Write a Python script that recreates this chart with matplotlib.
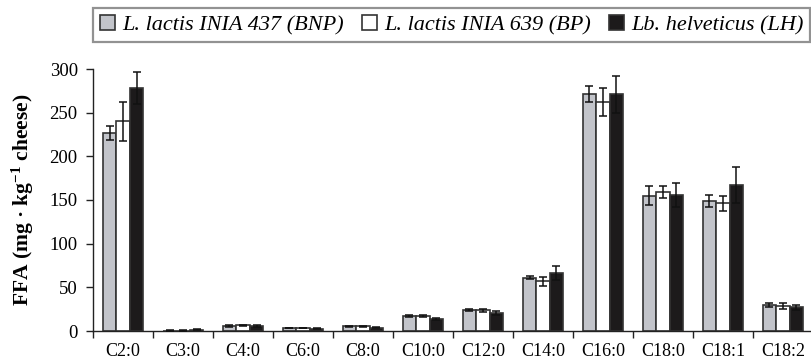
import numpy as np
import matplotlib
matplotlib.use("Agg")
import matplotlib.pyplot as plt

plt.rcParams['font.family'] = ['Liberation Serif', 'DejaVu Serif']
plt.rcParams['mathtext.fontset'] = 'custom'
plt.rcParams['mathtext.rm'] = 'Liberation Serif:bold'
plt.rcParams['mathtext.default'] = 'regular'

# fatty acids on the x axis
categories = ['C2:0', 'C3:0', 'C4:0', 'C6:0', 'C8:0', 'C10:0', 'C12:0',
              'C14:0', 'C16:0', 'C18:0', 'C18:1', 'C18:2']

series_names = ['L. lactis INIA 437 (BNP)', 'L. lactis INIA 639 (BP)',
                'Lb. helveticus (LH)']

bnp = [227, 0.5, 5.5, 3.5, 5.5, 17.5, 24, 61, 271, 155, 149, 30]
bnp_err = [8, 0.3, 0.8, 0.5, 0.6, 1.0, 1.0, 2.0, 9, 11, 7, 2]

bp = [240, 0.5, 6.5, 3.5, 5.5, 17, 23.5, 57, 262, 159, 146, 28.5]
bp_err = [22, 0.3, 0.8, 0.5, 0.6, 1.5, 1.5, 5, 16, 7, 9, 3]

lh = [278, 1.5, 5.5, 2.5, 4, 13.5, 20.5, 66, 271, 156, 167, 27]
lh_err = [18, 0.5, 0.8, 0.4, 0.5, 1.0, 2.5, 8, 21, 14, 21, 3]

values = [bnp, bp, lh]
errors = [bnp_err, bp_err, lh_err]
colors = ['#c2c4ca', 'white', '#1c1a1b']

fig = plt.figure(figsize=(8.11, 3.64), dpi=100)
ax = fig.add_axes([93 / 811, 33 / 364, 720 / 811, 262 / 364])

x = np.arange(len(categories))
width = 0.225
offsets = [-width, 0, width]
for vals, errs, col, off, name in zip(values, errors, colors, offsets, series_names):
    ax.bar(x + off, vals, width, color=col, edgecolor='#333333', linewidth=1.2,
           label=name, zorder=2)
    ax.errorbar(x + off, vals, yerr=errs, fmt='none', ecolor='#111111',
                elinewidth=1.1, capsize=3.2, capthick=1.1, zorder=3)

ax.set_xlim(-0.5, len(categories) - 0.5)
ax.set_ylim(0, 300)
ax.set_yticks(np.arange(0, 301, 50))
ax.set_xticks(x)
ax.set_xticklabels(categories)
# ticks sit between the groups
ax.set_xticks(np.arange(-0.5, len(categories), 1), minor=True)
ax.tick_params(axis='x', which='major', length=0, pad=9, labelsize=13)
ax.tick_params(axis='x', which='minor', length=5, width=1, color='#222222')
ax.tick_params(axis='y', length=5, width=1, labelsize=13.5, color='#222222',
               pad=6)
for s in ['top', 'right']:
    ax.spines[s].set_visible(False)
for s in ['left', 'bottom']:
    ax.spines[s].set_linewidth(1.0)
    ax.spines[s].set_color('#222222')

ax.set_ylabel('FFA (mg · kg$^{-1}$ cheese)', fontsize=15.5, fontweight='bold',
              labelpad=10)

handles, labels = ax.get_legend_handles_labels()
leg = fig.legend(handles, labels, loc='lower left', ncol=3, mode='expand',
                 bbox_to_anchor=(93 / 811, 1 - 42 / 364, 717 / 811, 38 / 364),
                 borderaxespad=0, fancybox=False, frameon=True,
                 prop={'style': 'italic', 'size': 16},
                 handlelength=0.7, handleheight=0.7, handletextpad=0.3,
                 columnspacing=0.6, borderpad=0.3)
leg.get_frame().set_edgecolor('#777777')
leg.get_frame().set_linewidth(1.6)

fig.savefig('out.png', dpi=100)
